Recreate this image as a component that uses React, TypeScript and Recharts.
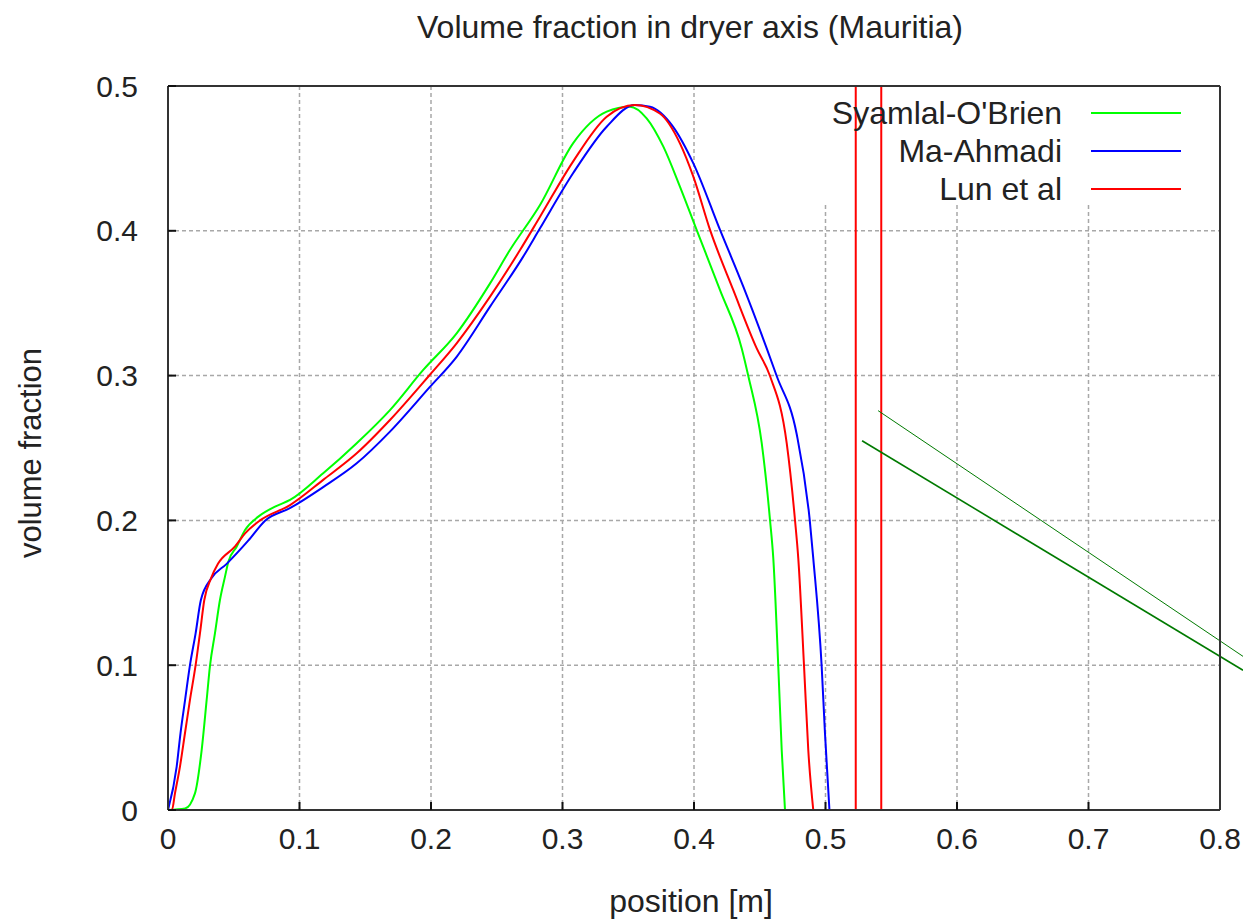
import React from "react";
import {
  LineChart,
  Line,
  XAxis,
  YAxis,
  CartesianGrid,
  ReferenceLine,
  ReferenceArea,
} from "recharts";

// position [m] ticks and volume fraction ticks
const xTicks = [0, 0.1, 0.2, 0.3, 0.4, 0.5, 0.6, 0.7, 0.8];
const yTicks = [0, 0.1, 0.2, 0.3, 0.4, 0.5];

const seriesNames = ["Syamlal-O'Brien", "Ma-Ahmadi", "Lun et al"];

const syamlal = [
  { x: 0, y: 0 },
  { x: 0.013, y: 0.001 },
  { x: 0.0205, y: 0.0115 },
  { x: 0.0256, y: 0.0414 },
  { x: 0.0294, y: 0.076 },
  { x: 0.0319, y: 0.0994 },
  { x: 0.0357, y: 0.122 },
  { x: 0.0395, y: 0.145 },
  { x: 0.0433, y: 0.161 },
  { x: 0.0459, y: 0.1715 },
  { x: 0.0522, y: 0.1818 },
  { x: 0.0586, y: 0.1934 },
  { x: 0.0687, y: 0.2026 },
  { x: 0.0814, y: 0.2095 },
  { x: 0.0928, y: 0.2141 },
  { x: 0.118, y: 0.2325 },
  { x: 0.1435, y: 0.2533 },
  { x: 0.1688, y: 0.2762 },
  { x: 0.1941, y: 0.3039 },
  { x: 0.2195, y: 0.3292 },
  { x: 0.2449, y: 0.3637 },
  { x: 0.26, y: 0.3867 },
  { x: 0.2829, y: 0.4178 },
  { x: 0.308, y: 0.4604 },
  { x: 0.3336, y: 0.4823 },
  { x: 0.3513, y: 0.4857 },
  { x: 0.364, y: 0.4777 },
  { x: 0.3767, y: 0.4581 },
  { x: 0.3893, y: 0.4305 },
  { x: 0.402, y: 0.4006 },
  { x: 0.4198, y: 0.359 },
  { x: 0.4363, y: 0.3188 },
  { x: 0.4413, y: 0.2997 },
  { x: 0.4515, y: 0.2533 },
  { x: 0.4578, y: 0.2003 },
  { x: 0.4603, y: 0.1738 },
  { x: 0.4641, y: 0.099 },
  { x: 0.4667, y: 0.0414 },
  { x: 0.4692, y: 0 },
];

const maAhmadi = [
  { x: 0, y: 0 },
  { x: 0.0066, y: 0.03 },
  { x: 0.0095, y: 0.053 },
  { x: 0.013, y: 0.076 },
  { x: 0.0167, y: 0.1 },
  { x: 0.021, y: 0.122 },
  { x: 0.025, y: 0.145 },
  { x: 0.033, y: 0.16 },
  { x: 0.0446, y: 0.17 },
  { x: 0.061, y: 0.186 },
  { x: 0.074, y: 0.2 },
  { x: 0.093, y: 0.2086 },
  { x: 0.118, y: 0.223 },
  { x: 0.1435, y: 0.2394 },
  { x: 0.1688, y: 0.2613 },
  { x: 0.199, y: 0.292 },
  { x: 0.2195, y: 0.313 },
  { x: 0.2449, y: 0.3476 },
  { x: 0.27, y: 0.382 },
  { x: 0.2829, y: 0.4017 },
  { x: 0.308, y: 0.4397 },
  { x: 0.3336, y: 0.4719 },
  { x: 0.355, y: 0.4869 },
  { x: 0.3665, y: 0.4857 },
  { x: 0.384, y: 0.472 },
  { x: 0.3995, y: 0.4466 },
  { x: 0.4198, y: 0.4006 },
  { x: 0.4375, y: 0.3614 },
  { x: 0.4553, y: 0.3188 },
  { x: 0.4629, y: 0.2997 },
  { x: 0.478, y: 0.26 },
  { x: 0.488, y: 0.2003 },
  { x: 0.4907, y: 0.1738 },
  { x: 0.4971, y: 0.099 },
  { x: 0.4996, y: 0.053 },
  { x: 0.503, y: 0 },
];

const lunEtAl = [
  { x: 0, y: 0 },
  { x: 0.003, y: 0 },
  { x: 0.0053, y: 0.0115 },
  { x: 0.0091, y: 0.03 },
  { x: 0.0129, y: 0.053 },
  { x: 0.0167, y: 0.076 },
  { x: 0.021, y: 0.1 },
  { x: 0.0243, y: 0.122 },
  { x: 0.0276, y: 0.145 },
  { x: 0.0327, y: 0.16 },
  { x: 0.038, y: 0.17 },
  { x: 0.051, y: 0.182 },
  { x: 0.0586, y: 0.191 },
  { x: 0.07, y: 0.2 },
  { x: 0.0928, y: 0.2106 },
  { x: 0.118, y: 0.228 },
  { x: 0.1435, y: 0.2463 },
  { x: 0.1688, y: 0.2693 },
  { x: 0.199, y: 0.3004 },
  { x: 0.2195, y: 0.3223 },
  { x: 0.2449, y: 0.3545 },
  { x: 0.2677, y: 0.3867 },
  { x: 0.2829, y: 0.4097 },
  { x: 0.308, y: 0.4478 },
  { x: 0.3336, y: 0.4788 },
  { x: 0.355, y: 0.4869 },
  { x: 0.374, y: 0.481 },
  { x: 0.3893, y: 0.4604 },
  { x: 0.3995, y: 0.4374 },
  { x: 0.4122, y: 0.4006 },
  { x: 0.4299, y: 0.359 },
  { x: 0.4477, y: 0.3188 },
  { x: 0.4578, y: 0.2997 },
  { x: 0.4705, y: 0.2533 },
  { x: 0.4768, y: 0.2003 },
  { x: 0.4793, y: 0.1738 },
  { x: 0.4837, y: 0.099 },
  { x: 0.4869, y: 0.0414 },
  { x: 0.4907, y: 0 },
];

const seriesData = [syamlal, maAhmadi, lunEtAl];
const seriesColors = ["#00ff00", "#0000ff", "#ff0000"];

// stray marks in the original plot
const redVerticals = [0.523, 0.5424];
const greenSegments = [
  [
    { x: 0.54, y: 0.2758 },
    { x: 0.8175, y: 0.1061 },
  ],
  [
    { x: 0.5278, y: 0.255 },
    { x: 0.8175, y: 0.0965 },
  ],
];
const greenWidths = [1, 1.6];

const FONT = "'Liberation Sans', Arial, sans-serif";
const TEXT = "#222";
const axisLine = { stroke: "#333", strokeWidth: 2 };
const tickLine = { stroke: "#111", strokeWidth: 2 };

export default function App() {
  return (
    <div
      style={{
        position: "absolute",
        left: 0,
        top: 0,
        width: 1243,
        height: 920,
        background: "#fff",
        fontFamily: FONT,
      }}
    >
      <div
        style={{
          position: "absolute",
          left: 168,
          width: 1044,
          top: 9,
          lineHeight: "36px",
          fontSize: 32,
          textAlign: "center",
          color: TEXT,
        }}
      >
        Volume fraction in dryer axis (Mauritia)
      </div>
      <LineChart
        width={1243}
        height={920}
        margin={{ top: 85, right: 22, bottom: 0, left: 0 }}
      >
        <CartesianGrid
          stroke="#a8a8a8"
          strokeWidth={1.5}
          strokeDasharray="4 3"
        />
        <ReferenceArea
          x1={0.49}
          x2={0.8}
          y1={0.418}
          y2={0.5}
          fill="#fff"
          fillOpacity={1}
          stroke="none"
          ifOverflow="hidden"
        />
        <XAxis
          type="number"
          dataKey="x"
          domain={[0, 0.8]}
          ticks={xTicks}
          interval={0}
          allowDataOverflow
          height={110}
          tickSize={-8}
          tickMargin={26}
          axisLine={axisLine}
          tickLine={tickLine}
          tick={{ fontSize: 30, fill: TEXT, fontFamily: FONT }}
          tickFormatter={(v: number) => String(v)}
          label={{
            content: ({ viewBox }: any) => (
              <text
                x={viewBox.x + viewBox.width / 2 - 3}
                y={viewBox.y + 102}
                textAnchor="middle"
                fontSize={32}
                fill={TEXT}
                fontFamily={FONT}
              >
                position [m]
              </text>
            ),
          }}
        />
        <XAxis
          xAxisId="top"
          orientation="top"
          type="number"
          domain={[0, 0.8]}
          ticks={xTicks}
          interval={0}
          allowDataOverflow
          height={1}
          tickSize={-8}
          tick={false}
          axisLine={axisLine}
          tickLine={tickLine}
        />
        <YAxis
          type="number"
          domain={[0, 0.5]}
          ticks={yTicks}
          interval={0}
          allowDataOverflow
          width={168}
          tickSize={-8}
          tickMargin={38}
          axisLine={axisLine}
          tickLine={tickLine}
          tick={{ fontSize: 30, fill: TEXT, fontFamily: FONT }}
          tickFormatter={(v: number) => String(v)}
          label={{
            content: ({ viewBox }: any) => {
              const cx = viewBox.x + 41;
              const cy = viewBox.y + viewBox.height / 2 + 5;
              return (
                <text
                  x={cx}
                  y={cy}
                  transform={`rotate(-90 ${cx} ${cy})`}
                  textAnchor="middle"
                  fontSize={31}
                  fill={TEXT}
                  fontFamily={FONT}
                >
                  volume fraction
                </text>
              );
            },
          }}
        />
        <YAxis
          yAxisId="right"
          orientation="right"
          type="number"
          domain={[0, 0.5]}
          ticks={yTicks}
          interval={0}
          allowDataOverflow
          width={1}
          tickSize={-8}
          tick={false}
          axisLine={axisLine}
          tickLine={tickLine}
        />
        {seriesData.map((d, i) => (
          <Line
            key={seriesNames[i]}
            name={seriesNames[i]}
            data={d}
            dataKey="y"
            type="monotone"
            stroke={seriesColors[i]}
            strokeWidth={2}
            dot={false}
            activeDot={false}
            isAnimationActive={false}
          />
        ))}
        {redVerticals.map((x) => (
          <ReferenceLine
            key={x}
            x={x}
            stroke="#ff0000"
            strokeWidth={2}
            ifOverflow="visible"
          />
        ))}
        {greenSegments.map((seg, i) => (
          <ReferenceLine
            key={i}
            segment={seg}
            stroke="#007a00"
            strokeWidth={greenWidths[i]}
            ifOverflow="visible"
          />
        ))}
      </LineChart>
      <div
        style={{
          position: "absolute",
          left: 800,
          top: 94,
          width: 400,
          fontSize: 32,
          color: TEXT,
        }}
      >
        {seriesNames.map((n, i) => (
          <div
            key={n}
            style={{ display: "flex", alignItems: "center", height: 38 }}
          >
            <span style={{ width: 262, textAlign: "right", whiteSpace: "nowrap" }}>
              {n}
            </span>
            <span
              style={{
                marginLeft: 29,
                width: 90,
                height: 2,
                background: seriesColors[i],
              }}
            />
          </div>
        ))}
      </div>
    </div>
  );
}
